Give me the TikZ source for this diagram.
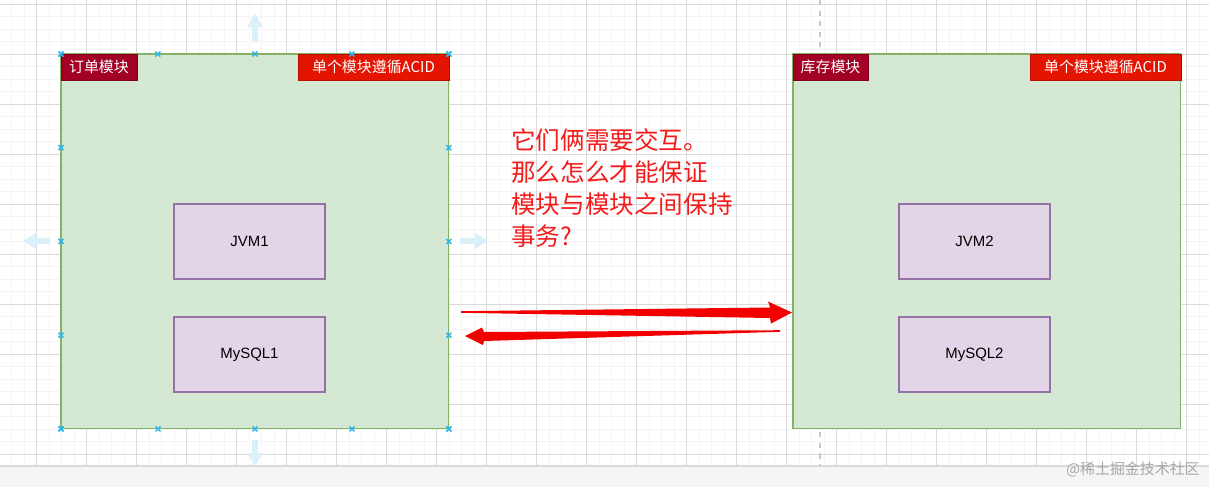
\documentclass[tikz,border=0pt]{standalone}
\usepackage{fontspec}
\setmainfont{Liberation Sans}
\newfontfamily\cjk{Noto Sans CJK SC}
\usetikzlibrary{calc,positioning}

\definecolor{gridminor}{HTML}{F4F4F4}
\definecolor{gridmajor}{HTML}{DADADA}
\definecolor{pagegray}{HTML}{F4F5F6}
\definecolor{modfill}{HTML}{D5E8D4}
\definecolor{modline}{HTML}{82B366}
\definecolor{boxfill}{HTML}{E1D5E7}
\definecolor{boxline}{HTML}{9673A6}
\definecolor{tagdark}{HTML}{A20025}
\definecolor{tagred}{HTML}{E51400}
\definecolor{handleblue}{HTML}{29B6F2}
\definecolor{hintblue}{HTML}{DAF0FB}
\definecolor{inkred}{HTML}{F51B1B}
\definecolor{wmgray}{HTML}{A8A8A8}

\begin{document}
\begin{tikzpicture}[x=0.02cm,y=-0.02cm,
    module/.style={draw=modline,fill=modfill,line width=0.6pt,inner sep=0,outer sep=0,
        minimum width=7.76cm,minimum height=7.5cm,anchor=north west},
    tag/.style={fill=#1,draw=#1!80!black,line width=0.4pt,text=white,inner sep=0,outer sep=0,
        minimum height=0.52cm,anchor=north west,font=\cjk\fontsize{8.5}{10}\selectfont},
    part/.style={draw=boxline,fill=boxfill,line width=0.6pt,inner sep=0,outer sep=0,
        minimum width=3.02cm,minimum height=1.5cm,anchor=north west,
        font=\fontsize{8.5}{10}\selectfont},
    handle/.style={draw=handleblue,line width=0.8pt},
]
    \useasboundingbox (0,0) rectangle (1209,487);
    \fill[white] (0,0) rectangle (1209,466);
    % Draw grid
    \foreach \k in {0,...,97} {
        \draw[gridminor,line width=0.4pt] (-0.8+12.5*\k,0) -- (-0.8+12.5*\k,466);
    }
    \foreach \k in {0,...,36} {
        \draw[gridminor,line width=0.4pt] (0,4+12.5*\k) -- (1209,4+12.5*\k);
    }
    \foreach \k in {0,...,23} {
        \draw[gridmajor,line width=0.5pt] (36.7+50*\k,0) -- (36.7+50*\k,466);
    }
    \foreach \k in {0,...,9} {
        \draw[gridmajor,line width=0.5pt] (0,4+50*\k) -- (1209,4+50*\k);
    }
    \draw[gray!45,dashed,line width=0.6pt] (820,0) -- (820,466);
    \fill[pagegray] (0,466) rectangle (1209,487);
    \draw[gridmajor,line width=0.6pt] (0,466) -- (1209,466);

    % Modules
    \node[module] (order) at (61,54) {};
    \node[module] (stock) at (793,54) {};
    \node[tag=tagdark,minimum width=1.52cm] (ordertag) at (order.north west) {订单模块};
    \node[tag=tagred,minimum width=3.02cm,anchor=north east] (acid1) at (order.north east) {单个模块遵循ACID};
    \node[tag=tagdark,minimum width=1.5cm] (stocktag) at (stock.north west) {库存模块};
    \node[tag=tagred,minimum width=3.02cm,anchor=north east] (acid2) at (stock.north east) {单个模块遵循ACID};

    \node[part] (jvm1) at (174,204) {JVM1};
    \node[part] (mysql1) at (174,317) {MySQL1};
    \node[part] (jvm2) at (899,204) {JVM2};
    \node[part] (mysql2) at (899,317) {MySQL2};

    % Selection handles and hover arrows
    \foreach \t in {0,0.25,0.5,0.75,1} {
        \foreach \a/\b in {north west/north east,south west/south east,north west/south west,north east/south east} {
            \coordinate (h) at ($(order.\a)!\t!(order.\b)$);
            \draw[handle] ($(h)+(-2.5,-2.5)$) -- ($(h)+(2.5,2.5)$)
                ($(h)+(-2.5,2.5)$) -- ($(h)+(2.5,-2.5)$);
        }
    }
    \foreach \ang/\px/\py/\len in {90/255/42/28,-90/255/440/26,180/50/241/27,0/460/241/28} {
        \fill[hintblue,shift={(\px,\py)},rotate=\ang]
            (0,-3) -- (\len-13,-3) -- (\len-13,-8) -- (\len,0) -- (\len-13,8) -- (\len-13,3) -- (0,3) -- cycle;
    }

    % Hand drawn arrows
    \coordinate (gotail) at (461,312);
    \coordinate (gotip) at (792,312.5);
    \coordinate (backtail) at (780,331);
    \coordinate (backtip) at (465,336);
    \fill[red!95!black] ($(gotail)+(0,-0.8)$) -- (770,307.5) -- (768,301.5) -- (gotip)
        -- (771,323.5) -- (770,318) -- ($(gotail)+(0,0.8)$) -- cycle;
    \fill[red!95!black] ($(backtail)+(0,-0.8)$) -- (484,332) -- (482,327.5) -- (backtip)
        -- (483,345) -- (484,341) -- ($(backtail)+(0,0.8)$) -- cycle;

    \node[anchor=north west,align=left,inner sep=0,text=inkred,
        font=\cjk\fontsize{14}{18.2}\selectfont] (question) at (511,128)
        {它们俩需要交互。\\那么怎么才能保证\\模块与模块之间保持\\事务?};

    \node[anchor=east,inner sep=0,text=wmgray,font=\cjk\fontsize{8.5}{10}\selectfont] (mark)
        at (1200,469) {@稀土掘金技术社区};
\end{tikzpicture}
\end{document}
